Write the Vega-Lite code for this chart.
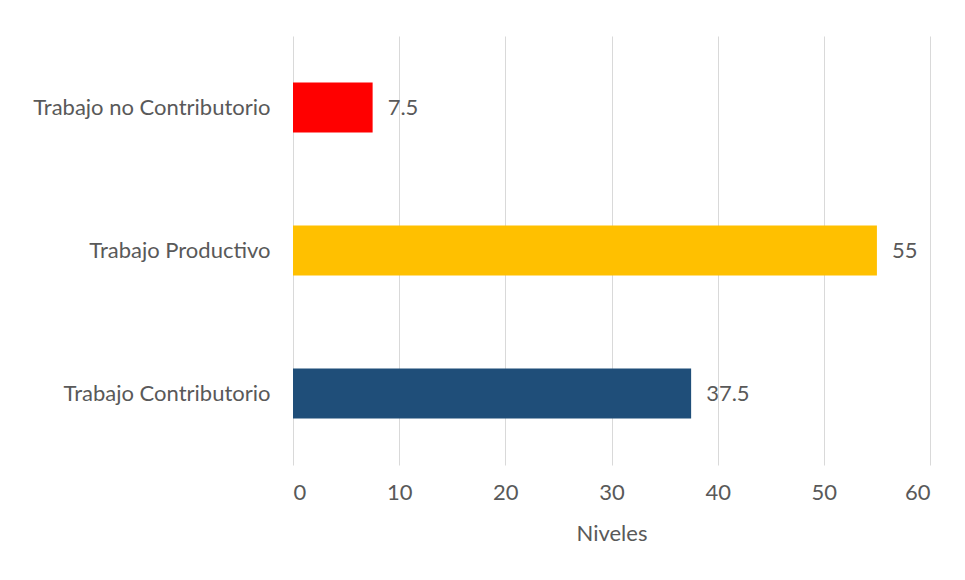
{
  "$schema": "https://vega.github.io/schema/vega-lite/v6.json",
  "autosize": "none",
  "width": 637,
  "height": 429,
  "padding": {"left": 293, "top": 36, "right": 35, "bottom": 115},
  "background": "white",
  "config": {"view": {"stroke": null}, "font": "Lato"},
  "data": {"values": [
    {"cat": "Trabajo no Contributorio", "val": 7.5, "color": "#FF0000"},
    {"cat": "Trabajo Productivo", "val": 55, "color": "#FFC000"},
    {"cat": "Trabajo Contributorio", "val": 37.5, "color": "#1F4E79"}
  ]},
  "encoding": {
    "y": {"field": "cat", "type": "nominal", "sort": null,
      "scale": {"paddingInner": 0.65, "paddingOuter": 0.325},
      "axis": {"title": null, "domain": false, "ticks": false, "labelPadding": 23, "labelFontSize": 22, "labelColor": "#595959", "labelFont": "Lato", "labelLimit": 400}},
    "x": {"field": "val", "type": "quantitative",
      "scale": {"domain": [0, 60], "nice": false},
      "axis": {"values": [0,10,20,30,40,50,60], "title": "Niveles", "titleFontSize": 22, "titleFontWeight": "normal", "titleColor": "#595959", "titlePadding": 20,
        "labelFontSize": 22, "labelColor": "#595959", "labelPadding": 17, "domain": false, "ticks": false, "grid": true, "gridColor": "#D9D9D9", "gridWidth": 1}}
  },
  "layer": [
    {"mark": {"type": "bar"}, "encoding": {"color": {"field": "color", "type": "nominal", "scale": null}}},
    {"mark": {"type": "text", "align": "left", "dx": 15, "fontSize": 22, "color": "#595959"}, "encoding": {"text": {"field": "val", "type": "quantitative"}}}
  ]
}
